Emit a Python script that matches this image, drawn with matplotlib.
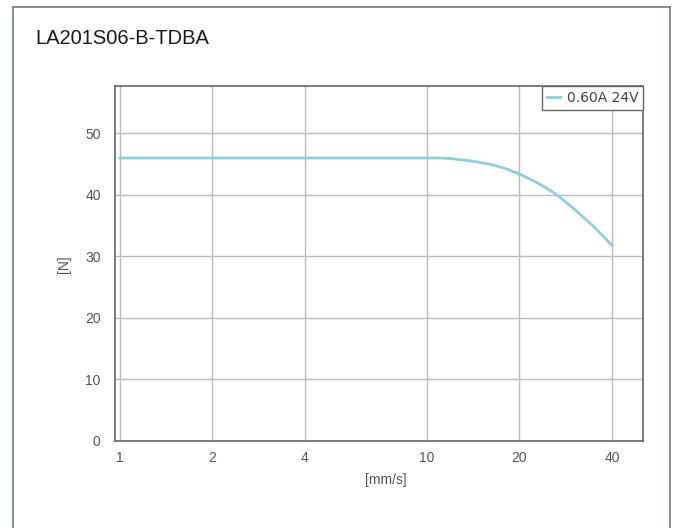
import numpy as np
import matplotlib
matplotlib.use("Agg")
import matplotlib.pyplot as plt
from matplotlib.lines import Line2D
from matplotlib.ticker import FixedLocator, FixedFormatter, NullLocator

plt.rcParams["font.family"] = ["Liberation Sans", "DejaVu Sans"]

# data
speed = [1, 2, 4, 10, 11, 12, 14, 16, 18, 20, 23, 26, 30, 35, 40]
force = [46.0, 46.0, 46.0, 46.0, 46.0, 45.9, 45.5, 45.0, 44.3, 43.4, 41.9, 40.3, 37.8, 34.8, 31.8]
series_label = "0.60A 24V"
x_ticks = [1, 2, 4, 10, 20, 40]
y_ticks = [0, 10, 20, 30, 40, 50]
title = "LA201S06-B-TDBA"

fig = plt.figure(figsize=(6.74, 5.28), dpi=100)
ax = fig.add_axes([0.170, 0.165, 0.784, 0.672])

ax.plot(speed, force, color="#8ecfd8", linewidth=2, label=series_label)

ax.set_xscale("log")
ax.set_xlim(0.96, 50.5)
ax.set_ylim(0, 57.7)
ax.xaxis.set_major_locator(FixedLocator(x_ticks))
ax.xaxis.set_major_formatter(FixedFormatter([str(v) for v in x_ticks]))
ax.xaxis.set_minor_locator(NullLocator())
ax.set_yticks(y_ticks)

ax.grid(True, color="#bcbcbc", linewidth=1)
ax.set_axisbelow(True)
ax.tick_params(length=0, labelsize=10, labelcolor="#555555")
ax.tick_params(axis="x", pad=7)
ax.tick_params(axis="y", pad=10)
for s in ax.spines.values():
    s.set_color("#666666")
    s.set_linewidth(1.2)

ax.set_xlabel("[mm/s]", fontsize=10, color="#555555")
ax.xaxis.set_label_coords(0.514, -0.09)
ax.set_ylabel("[N]", fontsize=10, color="#555555")
ax.yaxis.set_label_coords(-0.082, 0.497)

leg = ax.legend(loc="upper right", borderaxespad=0, fancybox=False,
                handlelength=0.9, handletextpad=0.5, borderpad=0.35, framealpha=1,
                prop={"family": "DejaVu Sans", "size": 10})
leg.get_frame().set_edgecolor("#666666")
leg.get_frame().set_linewidth(1)
for t in leg.get_texts():
    t.set_color("#444444")

fig.text(35 / 674, 1 - 38 / 528, title, fontsize=14.5, color="#1a1a1a", va="center", ha="left")

# outer border of the card
bc = "#707a88"
fig.add_artist(Line2D([13 / 674, 670 / 674], [1 - 7 / 528, 1 - 7 / 528], color=bc, lw=1.2))
fig.add_artist(Line2D([13 / 674, 13 / 674], [0, 1 - 7 / 528], color=bc, lw=1.2))
fig.add_artist(Line2D([670 / 674, 670 / 674], [0, 1 - 7 / 528], color=bc, lw=1.2))

fig.savefig("out.png", dpi=100)
